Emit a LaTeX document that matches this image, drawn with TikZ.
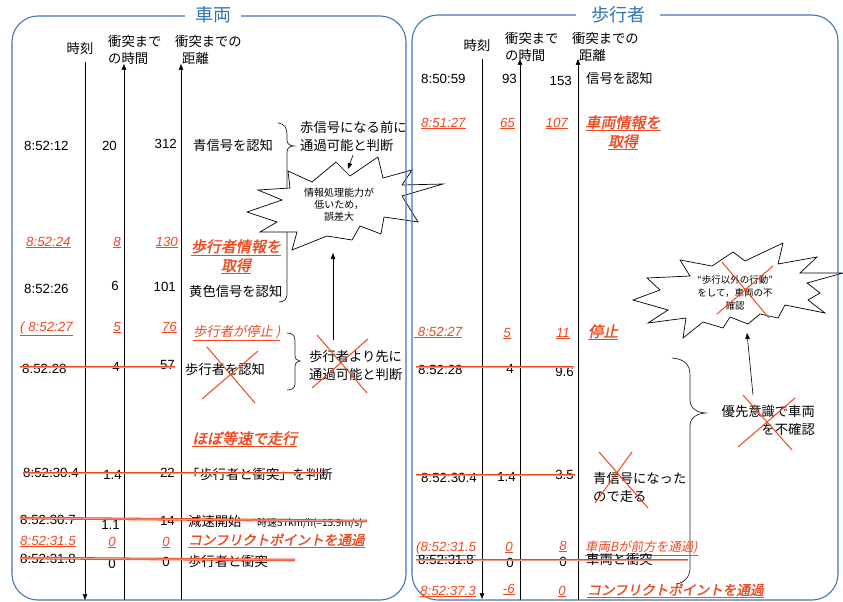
\documentclass[tikz,border=0pt]{standalone}
\usepackage{fontspec}
\setmainfont{Liberation Sans}
\newfontfamily\jp{Noto Sans CJK JP}
\newfontfamily\jpi{Noto Sans CJK JP}[FakeSlant=0.2]
\newfontfamily\jpbi{Noto Sans CJK JP}[FakeSlant=0.2,FakeBold=1.5]
\usetikzlibrary{arrows.meta}
\definecolor{myred}{RGB}{240,72,30}
\definecolor{myblue}{RGB}{70,118,190}
\definecolor{titleblue}{RGB}{46,117,182}
\newcommand\szN{\fontsize{13.3}{18}\selectfont}
\newcommand\szH{\fontsize{13.3}{16.5}\selectfont}
\newcommand\szS{\fontsize{10}{12}\selectfont}
\newcommand\szR{\fontsize{15}{19}\selectfont}
\newcommand\szK{\fontsize{13.6}{18}\selectfont}
\tikzset{
 panel/.style={draw=myblue, line width=1.1pt, rounded corners=26pt},
 ttl/.style={fill=white, text=titleblue, font=\jp\fontsize{18}{18}\selectfont, inner ysep=2pt},
 hd/.style={inner sep=0pt, font=\jp\szH},
 num/.style={inner sep=0pt, font=\szN},
 jt/.style={inner sep=0pt, font=\jp\szN},
 rnum/.style={inner sep=0pt, font=\szN\itshape, text=myred},
 rjt/.style={inner sep=0pt, font=\jpi\szN, text=myred},
 rbig/.style={inner sep=0pt, font=\jpbi\szR, text=myred},
 rkat/.style={inner sep=0pt, font=\jpbi\szK, text=myred},
 col/.style={line width=0.8pt, black},
 arr/.style={-{Triangle[length=6pt,width=4.5pt]}, line width=0.6pt},
 strike/.style={draw=myred, line width=0.8pt, double=myred!55, double distance=1pt},
 cross/.style={draw=myred, line width=1pt},
 brace/.style={draw=black!85, line width=0.7pt},
 burst/.style={draw=black, fill=white, line width=0.7pt, line join=miter},
 small/.style={inner sep=0pt, font=\jp\szS, align=center},
}
\begin{document}
\begin{tikzpicture}[x=1pt,y=-1pt]
\useasboundingbox[fill=white] (0,0) rectangle (843,602);

% ---------- braces (behind bursts)
\draw[brace] (278,123) .. controls (285,124) and (287,128) .. (287,135) -- (287,140)
  .. controls (287,144) and (290,146) .. (294,146) .. controls (290,146) and (287,148) .. (287,152)
  -- (287,294) .. controls (287,299) and (284,302) .. (279,302);
\draw[brace] (287,333) .. controls (293,333) and (295,336) .. (295,341) -- (295,355)
  .. controls (295,359) and (297,361) .. (300,361) .. controls (297,361) and (295,363) .. (295,367)
  -- (295,384) .. controls (295,388) and (292,390) .. (287,390);
\draw[brace] (672,358) .. controls (684,359) and (690,364) .. (690,375) -- (690,400)
  .. controls (690,409) and (698,413) .. (707,413) .. controls (698,413) and (690,417) .. (690,426)
  -- (690,568) .. controls (690,577) and (684,583) .. (676,584);

% ---------- bursts
\draw[burst] (288,171) -- (312,182) -- (336,162) -- (350,176) -- (378,157) -- (383,178)
  -- (412,170) -- (402,185) -- (443,184) -- (402,196) -- (418,222) -- (384,217)
  -- (381,234) -- (360,226) -- (352,240) -- (327,236) -- (292,250) -- (297,232)
  -- (260,232) -- (277,222) -- (247,212) -- (282,200) -- (258,190) -- (290,188) -- cycle;
\draw[burst] (680,260) -- (712,266) -- (733,252) -- (745,261) -- (783,243) -- (778,264)
  -- (817,257) -- (800,273) -- (843,273) -- (807,283) -- (820,293) -- (808,300)
  -- (825,313) -- (785,305) -- (778,318) -- (760,314) -- (748,324) -- (730,317)
  -- (723,328) -- (703,322) -- (683,338) -- (686,318) -- (648,323) -- (668,310)
  -- (633,300) -- (660,290) -- (647,278) -- (690,276) -- cycle;
\node[small] (bt1) at (339,205) {情報処理能力が\\低いため，\\誤差大};
\node[small, font=\jp\fontsize{9.5}{13}\selectfont] (bt2) at (735,293) {“歩行以外の行動”\\をして，車両の不\\確認};

% ---------- panels
\draw[panel] (12,16) rectangle (406,600);
\draw[panel] (412,15) rectangle (838,600);
\node[ttl, inner xsep=10pt] (tL) at (213,15) {車両};
\node[ttl, inner xsep=15pt] (tR) at (618,15) {歩行者};

% ---------- column lines
\coordinate (cL1t) at (85,62);  \coordinate (cL1b) at (85,600);
\coordinate (cL2t) at (124,64); \coordinate (cL2b) at (124,600);
\coordinate (cL3t) at (181,64); \coordinate (cL3b) at (181,600);
\coordinate (cR1t) at (482,59); \coordinate (cR1b) at (482,599);
\coordinate (cR2t) at (520,59); \coordinate (cR2b) at (520,600);
\coordinate (cR3t) at (578,59); \coordinate (cR3b) at (578,600);
\draw[col, arr] (cL1t) -- (cL1b);
\draw[col, arr] (cL2b) -- (cL2t);
\draw[col, arr] (cL3b) -- (cL3t);
\draw[col, arr] (cR1t) -- (cR1b);
\draw[col, arr] (cR2b) -- (cR2t);
\draw[col, arr] (cR3b) -- (cR3t);

% ---------- left headers
\node[hd] (hL1) at (80,48) {時刻};
\node[hd, align=left, anchor=west] (hL2) at (108,50) {衝突まで\\の時間};
\node[hd, align=left, anchor=west] (hL3) at (175,50) {衝突までの\\\hspace*{7pt}距離};

% ---------- left rows
\node[num, anchor=base west] (l1a) at (24,150) {8:52:12};
\node[num, anchor=base east] (l1b) at (117,150) {20};
\node[num, anchor=base east] (l1c) at (177,148) {312};
\node[jt, anchor=base west] (l1d) at (193,150) {青信号を認知};
\node[jt, align=left, anchor=west] (l1e) at (300,136) {赤信号になる前に\\通過可能と判断};

\node[rnum, anchor=base west] (l2a) at (26,246) {\underline{8:52:24}};
\node[rnum, anchor=base east] (l2b) at (121,246) {\underline{8}};
\node[rnum, anchor=base east] (l2c) at (178,246) {\underline{130}};
\node[rbig, align=center, anchor=base] (l2d) at (236,271) {\underline{歩行者情報を}\\\underline{取得}};

\node[num, anchor=base west] (l3a) at (24,293) {8:52:26};
\node[num, anchor=base east] (l3b) at (119,290) {6};
\node[num, anchor=base east] (l3c) at (176,291) {101};
\node[jt, anchor=base west] (l3d) at (189,296) {黄色信号を認知};

\node[rnum, anchor=base west] (l4a) at (20,331) {\underline{( 8:52:27}};
\node[rnum, anchor=base east] (l4b) at (121,331) {\underline{5}};
\node[rnum, anchor=base east] (l4c) at (177,331) {\underline{76}};
\node[rjt, anchor=base west] (l4d) at (193,336) {\underline{歩行者が停止 )}};

\node[num, anchor=base west] (l5a) at (22,373) {8:52:28};
\node[num, anchor=base east] (l5b) at (120,371) {4};
\node[num, anchor=base east] (l5c) at (175,369) {57};
\node[jt, anchor=base west] (l5d) at (185,374) {歩行者を認知};
\node[jt, align=left, anchor=west] (l5e) at (309,365) {歩行者より先に\\通過可能と判断};

\node[rbig, anchor=base west] (l5f) at (192,444) {\underline{ほぼ等速で走行}};

\node[num, anchor=base west] (l6a) at (23,477) {8:52:30.4};
\node[num, anchor=base east] (l6b) at (122,479) {1.4};
\node[num, anchor=base east] (l6c) at (175,477) {22};
\node[jt, anchor=base west] (l6d) at (186,479) {「歩行者と衝突」を判断};

\node[num, anchor=base west] (l7a) at (20,524) {8:52:30.7};
\node[num, anchor=base east] (l7b) at (120,529) {1.1};
\node[num, anchor=base east] (l7c) at (175,525) {14};
\node[jt, anchor=base west] (l7d) at (188,526) {減速開始};
\node[small, anchor=base west] (l7e) at (257,526) {時速57km/h(=15.9m/s)};

\node[rnum, anchor=base west] (l8a) at (20,545) {\underline{8:52:31.5}};
\node[rnum, anchor=base] (l8b) at (112,546) {\underline{0}};
\node[rnum, anchor=base] (l8c) at (166,546) {\underline{0}};
\node[rkat, anchor=base west] (l8d) at (188,545) {\underline{コンフリクトポイントを通過}};

\node[num, anchor=base west] (l9a) at (20,563) {8:52:31.8};
\node[num, anchor=base] (l9b) at (112,568) {0};
\node[num, anchor=base] (l9c) at (166,566) {0};
\node[jt, anchor=base west] (l9d) at (188,566) {歩行者と衝突};

% ---------- right headers
\node[hd] (hR1) at (477,45) {時刻};
\node[hd, align=left, anchor=west] (hR2) at (505,47) {衝突まで\\の時間};
\node[hd, align=left, anchor=west] (hR3) at (572,47) {衝突までの\\\hspace*{7pt}距離};

% ---------- right rows
\node[num, anchor=base west] (r1a) at (421,84) {8:50:59};
\node[num, anchor=base east] (r1b) at (517,83) {93};
\node[num, anchor=base east] (r1c) at (572,85) {153};
\node[jt, anchor=base west] (r1d) at (586,84) {信号を認知};

\node[rnum, anchor=base west] (r2a) at (421,127) {\underline{8:51:27}};
\node[rnum, anchor=base east] (r2b) at (515,127) {\underline{65}};
\node[rnum, anchor=base east] (r2c) at (568,127) {\underline{107}};
\node[rbig, align=center, anchor=base] (r2d) at (623,147) {\underline{車両情報を}\\\underline{取得}};

\node[rnum, anchor=base west] (r3a) at (414,336) {\underline{\ 8:52:27}};
\node[rnum, anchor=base east] (r3b) at (511,337) {\underline{5}};
\node[rnum, anchor=base east] (r3c) at (570,337) {\underline{11}};
\node[rbig, anchor=base west] (r3d) at (588,337) {\underline{停止}};

\node[num, anchor=base west] (r4a) at (418,374) {8:52:28};
\node[num, anchor=base east] (r4b) at (514,373) {4};
\node[num, anchor=base east] (r4c) at (574,376) {9.6};
\node[jt, align=right, anchor=east] (r4d) at (815,420) {優先意識で車両\\を不確認};

\node[num, anchor=base west] (r5a) at (421,482) {8:52:30.4};
\node[num, anchor=base east] (r5b) at (516,481) {1.4};
\node[num, anchor=base east] (r5c) at (574,479) {3.5};
\node[jt, align=left, anchor=west] (r5d) at (593,487) {青信号になった\\ので走る};

\node[rnum, anchor=base west] (r6a) at (416,551) {\underline{(8:52:31.5}};
\node[rnum, anchor=base] (r6b) at (509,551) {\underline{0}};
\node[rnum, anchor=base] (r6c) at (563,550) {\underline{8}};
\node[rjt, anchor=base west, font=\jpi\fontsize{12.5}{15}\selectfont] (r6d) at (585,551) {\underline{車両Bが前方を通過)}};

\node[num, anchor=base west] (r7a) at (418,564) {8:52:31.8};
\node[num, anchor=base] (r7b) at (510,567) {0};
\node[num, anchor=base] (r7c) at (563,566) {0};
\node[jt, anchor=base west] (r7d) at (586,564) {車両と衝突};

\node[rnum, anchor=base west] (r8a) at (420,595) {\underline{8:52:37.3}};
\node[rnum, anchor=base east] (r8b) at (515,593) {\underline{-6}};
\node[rnum, anchor=base] (r8c) at (562,595) {\underline{0}};
\node[rkat, anchor=base west] (r8d) at (587,595) {\underline{コンフリクトポイントを通過}};

% ---------- arrows to bursts
\coordinate (a1s) at (353,155); \coordinate (a1e) at (348,169);
\coordinate (a2s) at (333,340); \coordinate (a2e) at (333,253);
\coordinate (a3s) at (753,395); \coordinate (a3e) at (747,333);
\draw[arr] (a1s) -- (a1e);
\draw[arr] (a2s) -- (a2e);
\draw[arr] (a3s) -- (a3e);

% ---------- strike-throughs
\draw[strike] (20,367) -- (175,367);
\draw[strike] (23,473) -- (322,473);
\draw[strike] (20,518) -- (367,521);
\draw[strike] (20,558) -- (295,560);
\draw[strike] (416,367) -- (574,367);
\draw[strike] (416,475) -- (575,475);
\draw[strike] (416,560) -- (688,560);

% ---------- crosses
\draw[cross] (207,347) -- (255,403) (258,351) -- (202,399);
\draw[cross] (317,335) -- (367,393) (368,339) -- (312,388);
\draw[cross] (722,262) -- (769,318) (773,266) -- (717,314);
\draw[cross] (743,395) -- (792,450) (795,398) -- (738,447);
\draw[cross] (599,452) -- (648,508) (632,452) -- (595,503);
\end{tikzpicture}
\end{document}
